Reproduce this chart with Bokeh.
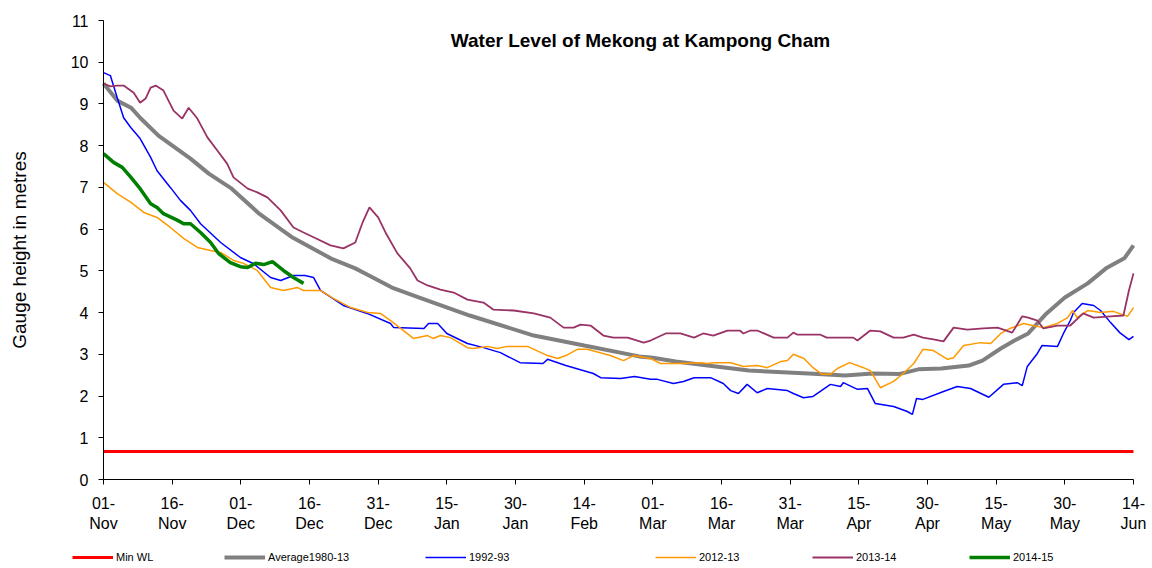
from bokeh.plotting import figure
from bokeh.models import (Range1d, FixedTicker, Legend, LegendItem, Label)
from bokeh.embed import file_html
from bokeh.resources import INLINE

# ---------------- data (x = days since 01-Nov) ----------------
tick_days = [0, 15, 30, 45, 60, 75, 90, 105, 120, 135, 150, 165, 180, 195, 210, 225]
tick_labels = ["01-\nNov", "16-\nNov", "01-\nDec", "16-\nDec", "31-\nDec", "15-\nJan",
               "30-\nJan", "14-\nFeb", "01-\nMar", "16-\nMar", "31-\nMar", "15-\nApr",
               "30-\nApr", "15-\nMay", "30-\nMay", "14-\nJun"]
y_ticks = [0, 1, 2, 3, 4, 5, 6, 7, 8, 9, 10, 11]

minwl_days = [0, 225]
minwl_vals = [0.67, 0.67]

avg_days = [0, 3, 6, 8, 12, 19, 23, 28, 34, 41, 43, 48, 50, 55, 58, 63, 69, 80, 94, 105,
            117, 120, 125, 132, 141, 154, 162, 168, 174, 178, 183, 189, 192, 196, 199,
            202, 206, 210, 215, 219, 223, 225]
avg_vals = [9.49, 9.08, 8.91, 8.67, 8.24, 7.69, 7.33, 6.97, 6.37, 5.82, 5.70, 5.40, 5.28,
            5.06, 4.89, 4.60, 4.36, 3.93, 3.45, 3.21, 2.95, 2.92, 2.83, 2.73, 2.61, 2.54,
            2.49, 2.54, 2.53, 2.64, 2.66, 2.73, 2.85, 3.14, 3.33, 3.50, 3.98, 4.36, 4.70,
            5.06, 5.30, 5.61]

y9293_days = [0, 1.5, 3, 4.4, 6, 8, 10.3, 11.7, 14.6, 16.8, 19, 21.2, 25.6, 29.9, 32.8,
              36.5, 38.7, 41.5, 44, 45.9, 47.4, 52.4, 57.6, 62.7, 63.4, 70, 71, 73, 75,
              79.5, 83, 86.7, 91, 96, 97, 101, 107, 108.6, 113, 116, 119.5, 121, 124.5,
              126.7, 129, 132.6, 135.4, 137, 138.7, 140.6, 142.8, 145, 149.4, 150.7,
              152.9, 155, 158.8, 161, 161.6, 164.7, 166.9, 168.6, 172.6, 175.6, 176.7,
              177.6, 179, 183.5, 186.5, 189.4, 193.4, 196.6, 199.6, 200.7, 201.8, 204,
              205, 208.4, 209.7, 211.2, 211.9, 213.8, 216.3, 217.8, 220, 222, 224, 225]
y9293_vals = [9.75, 9.68, 9.15, 8.67, 8.43, 8.17, 7.72, 7.40, 7.00, 6.69, 6.45, 6.13,
              5.68, 5.32, 5.17, 4.84, 4.77, 4.89, 4.89, 4.84, 4.53, 4.17, 3.98, 3.74,
              3.64, 3.62, 3.74, 3.74, 3.50, 3.26, 3.16, 3.04, 2.80, 2.78, 2.88, 2.73,
              2.54, 2.44, 2.42, 2.47, 2.40, 2.40, 2.30, 2.35, 2.44, 2.44, 2.30, 2.13,
              2.06, 2.28, 2.08, 2.18, 2.13, 2.06, 1.96, 1.99, 2.28, 2.23, 2.32, 2.16,
              2.18, 1.82, 1.75, 1.63, 1.56, 1.94, 1.92, 2.11, 2.23, 2.18, 1.97, 2.28,
              2.32, 2.25, 2.71, 3.02, 3.21, 3.19, 3.50, 3.81, 4.00, 4.22, 4.17, 4.05,
              3.76, 3.52, 3.35, 3.43]

y1213_days = [0, 3, 6, 8.8, 11.7, 14.6, 17.5, 20.5, 23.4, 25.6, 28.4, 30.6, 33.6, 36.5,
              39.3, 42.4, 43.7, 47.4, 50.2, 54, 57.7, 60.5, 63.3, 67.7, 70.8, 72, 73.6,
              75.8, 79.5, 80.8, 83.9, 86, 88.2, 92.6, 97, 99.2, 101, 103.5, 105.7, 110.7,
              113.6, 115.8, 119.5, 121.7, 126, 130.4, 132, 133.2, 137, 139.8, 142.8, 145,
              148, 149.4, 150.7, 153, 155, 157, 158.8, 160.3, 163, 166, 167.5, 169.7,
              172.6, 174.7, 177, 179, 181.3, 184.4, 185.7, 187.9, 191.6, 193.8, 196, 198,
              201, 203, 205.3, 208.4, 210.6, 211.7, 212.7, 215, 217.8, 220.6, 223.7, 225]
y1213_vals = [7.12, 6.85, 6.64, 6.40, 6.28, 6.04, 5.78, 5.56, 5.49, 5.44, 5.25, 5.18,
              5.01, 4.60, 4.53, 4.60, 4.53, 4.53, 4.34, 4.12, 4.00, 3.98, 3.76, 3.38,
              3.45, 3.38, 3.45, 3.40, 3.16, 3.14, 3.19, 3.14, 3.19, 3.19, 2.97, 2.90,
              2.97, 3.12, 3.12, 2.97, 2.85, 2.97, 2.90, 2.78, 2.78, 2.80, 2.78, 2.80,
              2.80, 2.71, 2.73, 2.68, 2.83, 2.85, 3.00, 2.90, 2.68, 2.52, 2.52, 2.66,
              2.80, 2.68, 2.61, 2.20, 2.35, 2.54, 2.78, 3.12, 3.09, 2.88, 2.92, 3.21,
              3.28, 3.26, 3.50, 3.62, 3.74, 3.69, 3.64, 3.74, 3.88, 4.05, 3.88, 4.05,
              4.00, 4.03, 3.91, 4.12]

y1314_days = [0, 1.5, 3, 4.4, 6.6, 8, 9.2, 10.3, 11.4, 13.1, 15.3, 17.2, 18.6, 20.5,
              22.7, 24.9, 27, 28.4, 31.5, 33.6, 35.8, 38.7, 41.5, 43.7, 46, 49.6, 52.4,
              55, 56.6, 58.1, 60, 61.6, 64.2, 67, 68.6, 70.8, 73.6, 76.5, 79.5, 83, 85.2,
              89.6, 94, 97.6, 100.5, 102.7, 104.2, 106.4, 109.2, 111.4, 114.5, 118,
              119.5, 122.8, 126, 129, 131, 133.2, 136.3, 139, 139.8, 141.3, 142.8, 146.4,
              149.4, 150.7, 151.6, 156.6, 158, 163.8, 164.7, 167.5, 169.7, 172.6, 174.7,
              177, 179, 181.3, 183.5, 185.7, 188.7, 192.2, 195.3, 198.5, 200.7, 202, 204,
              205.3, 208.4, 211.2, 214, 216.3, 220, 222.8, 224, 225]
y1314_vals = [9.49, 9.42, 9.44, 9.44, 9.27, 9.03, 9.13, 9.39, 9.44, 9.32, 8.84, 8.65,
              8.91, 8.65, 8.20, 7.88, 7.57, 7.24, 6.97, 6.88, 6.76, 6.45, 6.04, 5.92,
              5.80, 5.61, 5.54, 5.68, 6.16, 6.52, 6.28, 5.92, 5.42, 5.06, 4.77, 4.65,
              4.55, 4.48, 4.31, 4.24, 4.07, 4.05, 3.98, 3.88, 3.64, 3.64, 3.71, 3.69,
              3.45, 3.40, 3.40, 3.28, 3.33, 3.50, 3.50, 3.40, 3.50, 3.45, 3.57, 3.57,
              3.50, 3.57, 3.57, 3.40, 3.40, 3.52, 3.47, 3.47, 3.40, 3.40, 3.33, 3.57,
              3.55, 3.40, 3.40, 3.47, 3.40, 3.36, 3.31, 3.64, 3.59, 3.62, 3.64, 3.52,
              3.91, 3.88, 3.81, 3.62, 3.69, 3.69, 3.98, 3.88, 3.91, 3.93, 4.53, 4.94]

y1415_days = [0, 2.2, 4.1, 6, 8, 10.3, 11.7, 13.1, 16.2, 17.5, 19, 21.2, 23.4, 25.1,
              27.7, 29.9, 31.5, 33.2, 35, 36.9, 39.3, 41.5, 43.7]
y1415_vals = [7.81, 7.60, 7.48, 7.24, 6.97, 6.61, 6.52, 6.37, 6.21, 6.13, 6.13, 5.92,
              5.68, 5.42, 5.20, 5.10, 5.08, 5.18, 5.15, 5.22, 5.01, 4.84, 4.70]

series_names = ["Min WL", "Average1980-13", "1992-93", "2012-13", "2013-14", "2014-15"]

# ---------------- layout constants (pixels) ----------------
W, H = 1150, 566
AX_LEFT, AX_RIGHT = 103, 1133      # page x of day 0 and day 225
AX_TOP, AX_BOTTOM = 20, 479        # page y of 11 m and 0 m
FRAME_LEFT, FRAME_RIGHT = 2, 1148
FRAME_TOP, FRAME_BOTTOM = 2, 564
px_day = (AX_RIGHT - AX_LEFT) / 225.0
px_m = (AX_BOTTOM - AX_TOP) / 11.0
x_start = -(AX_LEFT - FRAME_LEFT) / px_day
x_end = 225 + (FRAME_RIGHT - AX_RIGHT) / px_day
y_start = -(FRAME_BOTTOM - AX_BOTTOM) / px_m
y_end = 11 + (AX_TOP - FRAME_TOP) / px_m

FONT = "Liberation Sans"
p = figure(width=W, height=H, output_backend="svg", toolbar_location=None,
           x_range=Range1d(x_start, x_end), y_range=Range1d(y_start, y_end),
           min_border_left=FRAME_LEFT, min_border_right=W - FRAME_RIGHT,
           min_border_top=FRAME_TOP, min_border_bottom=H - FRAME_BOTTOM)
p.outline_line_color = None
p.grid.visible = False
p.background_fill_color = "white"
p.border_fill_color = "white"

for ax in (p.xaxis[0], p.yaxis[0]):
    ax.axis_line_color = "black"
    ax.axis_line_width = 1
    ax.major_tick_line_color = "black"
    ax.major_tick_out = 5
    ax.major_tick_in = 0
    ax.minor_tick_line_color = None
    ax.major_label_text_font = FONT
    ax.major_label_text_font_size = "16px"
    ax.major_label_text_color = "black"
    ax.major_label_standoff = 10
    ax.fixed_location = 0

p.xaxis.bounds = (0, 225)
p.yaxis.bounds = (0, 11)
p.xaxis.ticker = FixedTicker(ticks=tick_days)
p.xaxis.major_label_overrides = {d: lab for d, lab in zip(tick_days, tick_labels)}
p.yaxis.ticker = FixedTicker(ticks=y_ticks)
p.yaxis.axis_label = "Gauge height in metres"
p.yaxis.axis_label_text_font = FONT
p.yaxis.axis_label_text_font_size = "19px"
p.yaxis.axis_label_text_font_style = "normal"
p.yaxis.axis_label_text_color = "black"
p.yaxis.axis_label_standoff = 38

r_min = p.line(minwl_days, minwl_vals, line_color="#FF0000", line_width=3)
r_avg = p.line(avg_days, avg_vals, line_color="#808080", line_width=4)
r_9293 = p.line(y9293_days, y9293_vals, line_color="#0000FF", line_width=1.5)
r_1213 = p.line(y1213_days, y1213_vals, line_color="#FF9900", line_width=1.5)
r_1314 = p.line(y1314_days, y1314_vals, line_color="#993366", line_width=1.8)
r_1415 = p.line(y1415_days, y1415_vals, line_color="#008000", line_width=3.5)

renderers = [r_min, r_avg, r_9293, r_1213, r_1314, r_1415]
legend_page_x = [72, 224, 425, 655, 812, 969]
legend_center_y = 557
for name, rend, lx in zip(series_names, renderers, legend_page_x):
    lg = Legend(items=[LegendItem(label=name, renderers=[rend])],
                location=(lx - FRAME_LEFT, FRAME_BOTTOM - legend_center_y - 6),
                orientation="horizontal",
                border_line_color=None, background_fill_alpha=0,
                padding=0, margin=0, spacing=0,
                glyph_width=41, glyph_height=12, label_height=12,
                label_standoff=3, label_text_font=FONT,
                label_text_font_size="11px", label_text_color="black")
    p.add_layout(lg, "center")

title = Label(x=(640 - AX_LEFT) / px_day, y=(AX_BOTTOM - 40) / px_m,
              text="Water Level of Mekong at Kampong Cham",
              text_font=FONT, text_font_size="19px", text_font_style="bold",
              text_align="center", text_baseline="middle", text_color="black")
p.add_layout(title)

open("out.html", "w").write(file_html(p, INLINE))
